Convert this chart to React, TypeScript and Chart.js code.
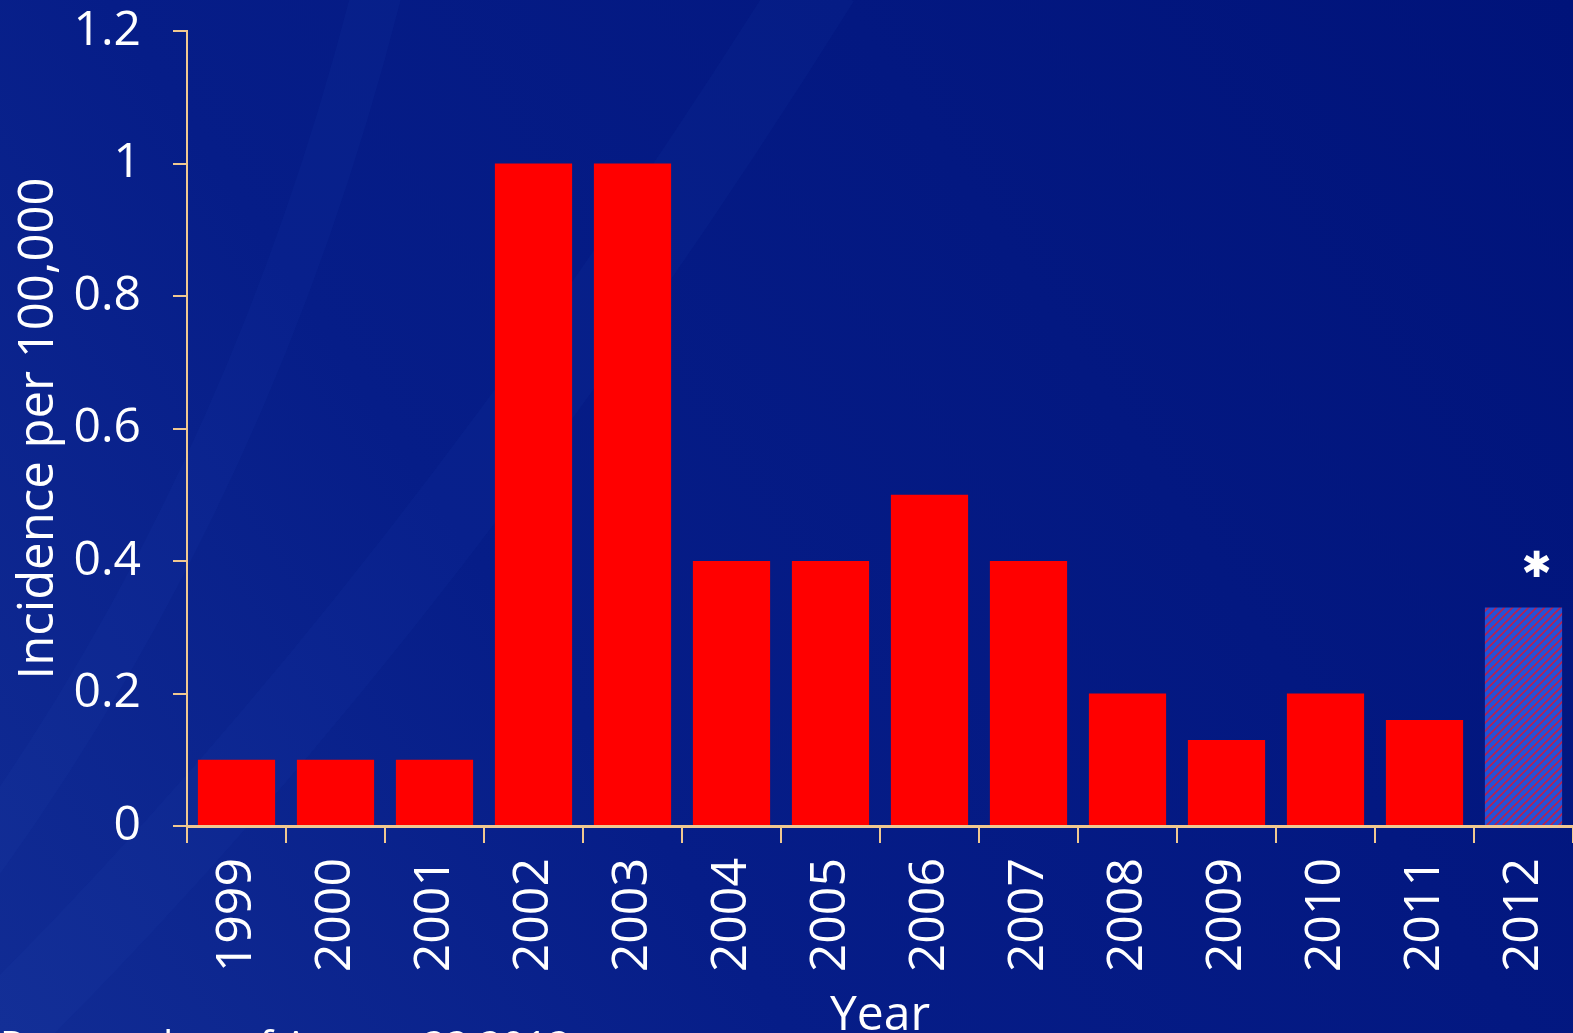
import React, { useEffect, useRef } from "react";
import { Chart, registerables } from "chart.js";

Chart.register(...registerables);

const years = ["1999", "2000", "2001", "2002", "2003", "2004", "2005", "2006", "2007", "2008", "2009", "2010", "2011", "2012"];
const incidence = [0.1, 0.1, 0.1, 1.0, 1.0, 0.4, 0.4, 0.5, 0.4, 0.2, 0.13, 0.2, 0.16, 0.33];
const provisionalYear = "2012";
const yTitle = "Incidence per 100,000";
const xTitle = "Year";
const footnote = "Reported as of August 22 2012";

const FONT = "'Open Sans', 'Noto Sans', sans-serif";
const AXIS = "#f0c890";

function makeHatch(): CanvasPattern | string {
  const c = document.createElement("canvas");
  c.width = 8;
  c.height = 8;
  const g = c.getContext("2d");
  if (!g) return "#2050d0";
  g.fillStyle = "#2452d8";
  g.fillRect(0, 0, 8, 8);
  g.strokeStyle = "#b82050";
  g.lineWidth = 1.6;
  g.beginPath();
  g.moveTo(-2, 10);
  g.lineTo(10, -2);
  g.moveTo(-2, 2);
  g.lineTo(2, -2);
  g.moveTo(6, 10);
  g.lineTo(10, 6);
  g.stroke();
  const p = g.createPattern(c, "repeat");
  return p || "#2050d0";
}

export default function App() {
  const ref = useRef<HTMLCanvasElement>(null);
  useEffect(() => {
    if (!ref.current) return;
    const hatch = makeHatch();
    const colors = years.map((y) => (y === provisionalYear ? hatch : "#ff0000"));

    const bgPlugin = {
      id: "bg",
      beforeDraw(chart: any) {
        const { ctx, width, height } = chart;
        ctx.save();
        const g = ctx.createLinearGradient(0, height, width, 0);
        g.addColorStop(0, "#112c94");
        g.addColorStop(0.35, "#061d88");
        g.addColorStop(1, "#00137a");
        ctx.fillStyle = g;
        ctx.fillRect(0, 0, width, height);
        ctx.globalAlpha = 0.035;
        ctx.strokeStyle = "#6080ff";
        ctx.lineWidth = 50;
        ctx.beginPath();
        ctx.moveTo(-50, 900);
        ctx.quadraticCurveTo(250, 500, 380, -20);
        ctx.stroke();
        ctx.lineWidth = 80;
        ctx.beginPath();
        ctx.moveTo(-50, 1080);
        ctx.quadraticCurveTo(400, 650, 820, -20);
        ctx.stroke();
        ctx.restore();
      },
      afterDraw(chart: any) {
        const { ctx } = chart;
        const meta = chart.getDatasetMeta(0);
        const idx = years.indexOf(provisionalYear);
        const bar = meta.data[idx];
        ctx.save();
        ctx.fillStyle = "#ffffff";
        ctx.font = "bold 36px 'DejaVu Sans', sans-serif";
        ctx.textAlign = "center";
        ctx.textBaseline = "middle";
        ctx.fillText("\u2731", bar.x + 13, bar.y - 40);
        ctx.font = `40px ${FONT}`;
        ctx.textAlign = "left";
        ctx.textBaseline = "top";
        ctx.fillText(footnote, 0, 1029);
        ctx.restore();
      },
    };

    const chart = new Chart(ref.current, {
      type: "bar",
      data: {
        labels: years,
        datasets: [
          {
            data: incidence,
            backgroundColor: colors as any,
            barPercentage: 0.78,
            categoryPercentage: 1,
          },
        ],
      },
      options: {
        animation: false,
        responsive: true,
        maintainAspectRatio: false,
        layout: { padding: { top: 31, right: 0, bottom: 0, left: 0 } },
        plugins: { legend: { display: false }, tooltip: { enabled: false } },
        scales: {
          x: {
            grid: { drawOnChartArea: false, drawTicks: true, tickLength: 17, color: AXIS, lineWidth: 2, offset: true },
            border: { color: AXIS, width: 3 },
            ticks: { color: "#ffffff", font: { family: FONT, size: 50 }, minRotation: 90, maxRotation: 90, padding: 15, autoSkip: false },
            title: { display: true, text: xTitle, color: "#ffffff", font: { family: FONT, size: 48 }, padding: { top: 0, bottom: -12 } },
            afterFit(scale: any) {
              scale.height = 207;
              scale.paddingLeft = 0;
              scale.paddingRight = 0;
            },
          },
          y: {
            min: 0,
            max: 1.2,
            grid: { drawOnChartArea: false, drawTicks: true, tickLength: 14, color: AXIS, lineWidth: 2 },
            border: { color: AXIS, width: 2 },
            ticks: {
              stepSize: 0.2,
              color: "#ffffff",
              font: { family: FONT, size: 48 },
              padding: 32,
              callback: (v: any) => String(Number(Number(v).toFixed(1))),
            },
            title: { display: true, text: yTitle, color: "#ffffff", font: { family: FONT, size: 49 }, padding: { top: 10, bottom: 0 } },
            afterFit(scale: any) {
              scale.width = 187;
              scale.paddingTop = 0;
              scale.paddingBottom = 0;
            },
          },
        },
      },
      plugins: [bgPlugin],
    });
    return () => chart.destroy();
  }, []);

  return (
    <div style={{ position: "absolute", left: 0, top: 0, width: 1573, height: 1033 }}>
      <canvas ref={ref} />
    </div>
  );
}
